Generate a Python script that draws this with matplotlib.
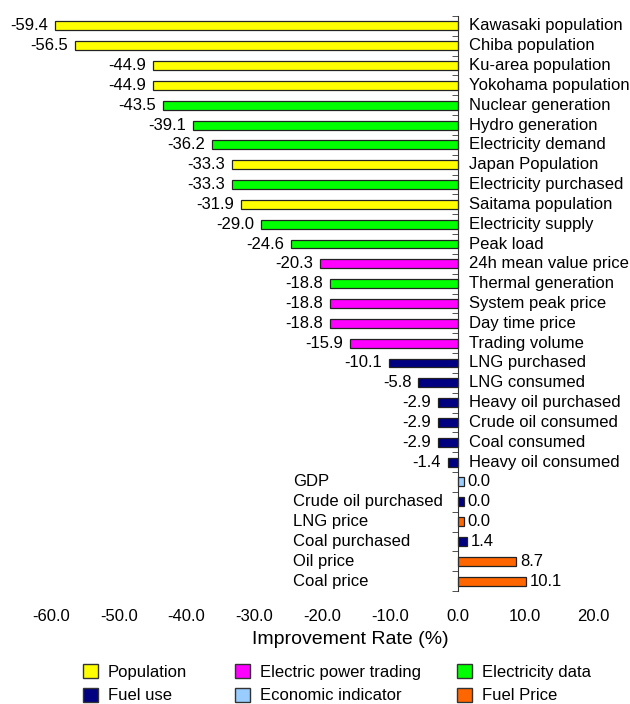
import numpy as np
import matplotlib
matplotlib.use("Agg")
import matplotlib.pyplot as plt
from matplotlib.patches import Patch

plt.rcParams['font.family'] = ['Liberation Sans', 'DejaVu Sans']

# categories top to bottom
labels = ["Kawasaki population", "Chiba population", "Ku-area population",
          "Yokohama population", "Nuclear generation", "Hydro generation",
          "Electricity demand", "Japan Population", "Electricity purchased",
          "Saitama population", "Electricity supply", "Peak load",
          "24h mean value price", "Thermal generation", "System peak price",
          "Day time price", "Trading volume", "LNG purchased", "LNG consumed",
          "Heavy oil purchased", "Crude oil consumed", "Coal consumed",
          "Heavy oil consumed", "GDP", "Crude oil purchased", "LNG price",
          "Coal purchased", "Oil price", "Coal price"]
values = [-59.4, -56.5, -44.9, -44.9, -43.5, -39.1, -36.2, -33.3, -33.3,
          -31.9, -29.0, -24.6, -20.3, -18.8, -18.8, -18.8, -15.9, -10.1,
          -5.8, -2.9, -2.9, -2.9, -1.4, 0.0, 0.0, 0.0, 1.4, 8.7, 10.1]
groups = ["Population", "Population", "Population", "Population",
          "Electricity data", "Electricity data", "Electricity data",
          "Population", "Electricity data", "Population", "Electricity data",
          "Electricity data", "Electric power trading", "Electricity data",
          "Electric power trading", "Electric power trading",
          "Electric power trading", "Fuel use", "Fuel use", "Fuel use",
          "Fuel use", "Fuel use", "Fuel use", "Economic indicator",
          "Fuel use", "Fuel Price", "Fuel use", "Fuel Price", "Fuel Price"]

colors = {"Population": "#FFFF00", "Fuel use": "#000080",
          "Electric power trading": "#FF00FF", "Economic indicator": "#99CCFF",
          "Electricity data": "#00FF00", "Fuel Price": "#FF6600"}
# legend laid out as three columns of two
legend_cols = [["Population", "Fuel use"],
               ["Electric power trading", "Economic indicator"],
               ["Electricity data", "Fuel Price"]]

xticks = [-60, -50, -40, -30, -20, -10, 0, 10, 20]

fig = plt.figure(figsize=(6.3, 7.04), dpi=100)
ax = fig.add_axes([51 / 630, 1 - 591 / 704, 542 / 630, 575 / 704])

vals = np.array(values)
y = np.arange(len(vals))
# zero values still get a small visible stub, like the original
shown = np.where(vals == 0, 0.9, vals)
ax.barh(y, shown, height=0.45, color=[colors[g] for g in groups],
        edgecolor="#222222", linewidth=0.9, zorder=2)

fs = 12
for yi, v, s, lab in zip(y, vals, shown, labels):
    if v < 0:
        ax.annotate(lab, (0, yi), xytext=(8, 0), textcoords="offset points",
                    ha="left", va="center", fontsize=fs)
        ax.annotate(f"{v:.1f}", (s, yi), xytext=(-5, 0), textcoords="offset points",
                    ha="right", va="center", fontsize=fs)
    else:
        ax.text(-24.3, yi, lab, ha="left", va="center", fontsize=fs)
        ax.annotate(f"{v:.1f}", (s, yi), xytext=(3, 0), textcoords="offset points",
                    ha="left", va="center", fontsize=fs)

ax.set_xlim(-60, 20)
ax.set_ylim(len(vals) - 0.5, -0.5)
ax.set_xticks(xticks)
ax.set_xticklabels([f"{t:.1f}" for t in xticks], fontsize=fs)
ax.tick_params(axis="x", length=0, pad=13)
ax.set_xlabel("Improvement Rate (%)", fontsize=14)
ax.xaxis.set_label_coords(350 / 630, 1 - 640 / 704, transform=fig.transFigure)
ax.xaxis.label.set_va("center")

ax.set_yticks([])
ax.set_yticks(np.arange(len(vals) + 1) - 0.5, minor=True)
ax.tick_params(axis="y", which="minor", length=4, direction="out",
               labelleft=False, color="#333333")
for side in ["top", "right", "bottom"]:
    ax.spines[side].set_visible(False)
ax.spines["left"].set_position(("data", 0))
ax.spines["left"].set_color("#333333")

col_x = [83, 235, 457]
for cx, names in zip(col_x, legend_cols):
    handles = [Patch(facecolor=colors[g], edgecolor="#333333", label=g) for g in names]
    fig.legend(handles=handles, loc="upper left",
               bbox_to_anchor=(cx / 630, 1 - 664 / 704),
               frameon=False, fontsize=fs, handlelength=0.9, handleheight=0.9,
               handletextpad=0.6, labelspacing=0.48, borderpad=0, borderaxespad=0)

fig.savefig("out.png", dpi=100)
